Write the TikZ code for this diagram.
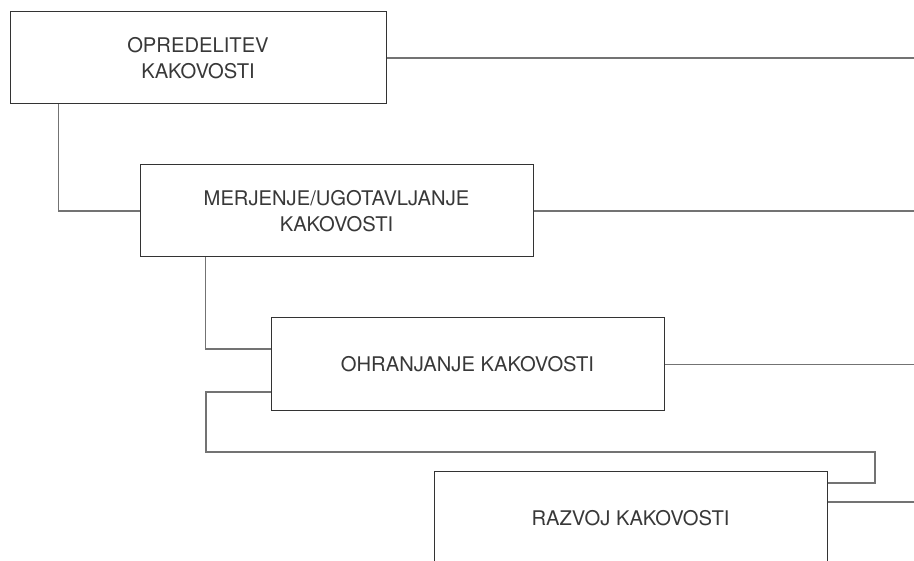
\documentclass[tikz,border=0pt]{standalone}
\usepackage{fontspec}
\setmainfont{TeX Gyre Heros}
\begin{document}
\begin{tikzpicture}[x=1pt,y=-1pt,
  stage/.style={draw=black!80, line width=1pt, rectangle, inner sep=0pt,
    minimum width=393pt, minimum height=92pt, align=center,
    text=black!78, font=\fontsize{20.2}{26}\selectfont},
  link/.style={draw=black!55, line width=1.3pt}]
  \useasboundingbox (0,0) rectangle (914,561);
  \clip (0,0) rectangle (914,561);

  % stages of quality management
  \node[stage, minimum width=376pt] (b1) at (198,58) {OPREDELITEV\\KAKOVOSTI};
  \node[stage] (b2) at (336.5,211) {MERJENJE/UGOTAVLJANJE\\KAKOVOSTI};
  \node[stage, minimum height=93pt] (b3) at (467.5,364.5) {OHRANJANJE KAKOVOSTI};
  \node[stage] (b4) at (630.5,518) {RAZVOJ KAKOVOSTI};

  % free ends on the right margin
  \coordinate (e1) at (914,58);
  \coordinate (e2) at (914,211);
  \coordinate (e3) at (914,364.5);
  \coordinate (e4) at (914,502);

  % return path from the third stage to the fourth
  \coordinate (k1) at (206,452);
  \coordinate (k2) at (875,452);

  % outgoing lines
  \draw[link] (b1.east) -- (e1);
  \draw[link] (b2.east) -- (e2);
  \draw[link] (b3.east) -- (e3);
  \draw[link] ([yshift=16pt]b4.east) -- (e4);

  % step connectors
  \draw[link] ([xshift=49pt]b1.south west) |- (b2.west);
  \draw[link] ([xshift=66pt]b2.south west) |- ([yshift=15.5pt]b3.west);
  \draw[link] ([yshift=-27.5pt]b3.west) -| (k1) -- (k2) |- ([yshift=35pt]b4.east);
\end{tikzpicture}
\end{document}
